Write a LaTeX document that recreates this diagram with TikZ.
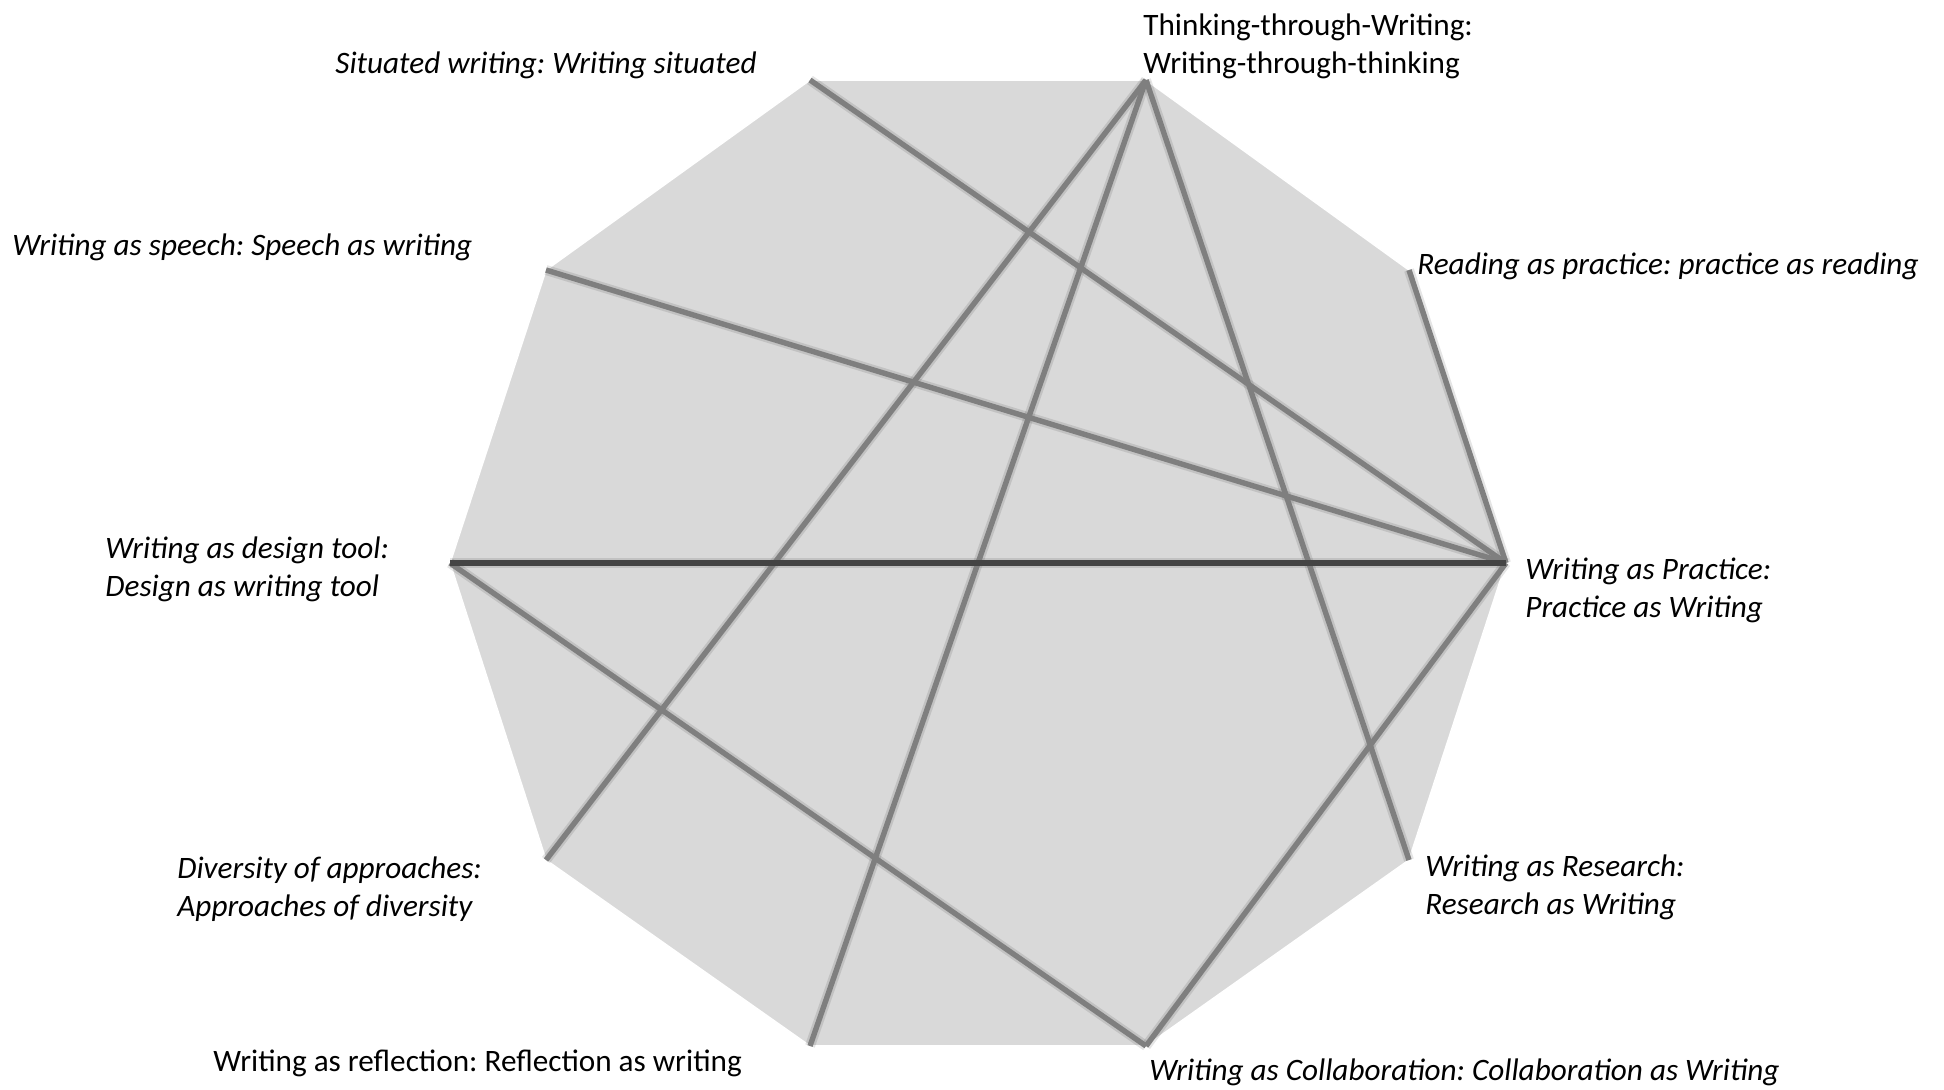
\documentclass[tikz,border=0pt]{standalone}
\usepackage{fontspec}
\setmainfont{Carlito}
\frenchspacing
\usetikzlibrary{positioning}
\definecolor{facefill}{HTML}{D9D9D9}
\definecolor{chordgray}{HTML}{7F7F7F}
\definecolor{axisgray}{HTML}{444444}

\begin{document}
\begin{tikzpicture}[x=0.5pt,y=-0.5pt,
        lbl/.style={inner sep=0pt,align=left,font=\fontsize{15.6}{19}\selectfont\itshape},
        uplbl/.style={inner sep=0pt,align=left,font=\fontsize{15.6}{19}\selectfont},
        chord/.style={draw=chordgray,line width=2.7pt},
        chordshade/.style={draw=black,opacity=0.10,line width=5pt,shift={(1,4)}}]
    \useasboundingbox (0,0) rectangle (1944,1089);
    % corners of the decagon
    \coordinate (prac) at (1506,563);
    \coordinate (read) at (1409,270);
    \coordinate (think) at (1146,80);
    \coordinate (sit) at (810,80);
    \coordinate (speech) at (546,270);
    \coordinate (des) at (450,563);
    \coordinate (div) at (546,860);
    \coordinate (refl) at (810,1046);
    \coordinate (coll) at (1146,1046);
    \coordinate (res) at (1409,860);
    % face
    \fill[black,opacity=0.08,shift={(2,4)}] (prac) -- (read) -- (think) -- (sit) -- (speech)
        -- (des) -- (div) -- (refl) -- (coll) -- (res) -- cycle;
    \filldraw[fill=facefill,draw=white,line width=0.8pt] (prac) -- (read) -- (think) -- (sit) -- (speech)
        -- (des) -- (div) -- (refl) -- (coll) -- (res) -- cycle;
    % shadows under the chords
    \draw[chordshade] (sit) -- (prac);
    \draw[chordshade] (speech) -- (prac);
    \draw[chordshade] (des) -- (prac);
    \draw[chordshade] (des) -- (coll);
    \draw[chordshade] (think) -- (div);
    \draw[chordshade] (think) -- (refl);
    \draw[chordshade] (think) -- (res);
    \draw[chordshade] (coll) -- (prac);
    \draw[chordshade] (read) -- (prac);
    % chords
    \draw[chord] (sit) -- (prac);
    \draw[chord] (speech) -- (prac);
    \draw[chord] (des) -- (coll);
    \draw[chord] (think) -- (div);
    \draw[chord] (think) -- (refl);
    \draw[chord] (think) -- (res);
    \draw[chord] (coll) -- (prac);
    \draw[chord] (read) -- (prac);
    \draw[chord,draw=axisgray] (des) -- (prac);
    % labels
    \node[lbl,anchor=east] (sitlbl) at (757,65) {Situated writing: Writing situated};
    \node[uplbl,anchor=west] (thinklbl) at (1143,46) {Thinking-through-Writing:\\Writing-through-thinking};
    \node[lbl,anchor=west] (readlbl) at (1417,266) {Reading as practice: practice as reading};
    \node[lbl,anchor=west] (speechlbl) at (12,247) {Writing as speech: Speech as writing};
    \node[lbl,anchor=west] (deslbl) at (105,569) {Writing as design tool:\\Design as writing tool};
    \node[lbl,anchor=west] (praclbl) at (1525,590) {Writing as Practice:\\Practice as Writing};
    \node[lbl,anchor=west] (divlbl) at (177,889) {Diversity of approaches:\\Approaches of diversity};
    \node[lbl,anchor=west] (reslbl) at (1425,887) {Writing as Research:\\Research as Writing};
    \node[uplbl,anchor=west] (refllbl) at (213,1063) {Writing as reflection: Reflection as writing};
    \node[lbl,anchor=west] (colllbl) at (1149,1072) {Writing as Collaboration: Collaboration as Writing};
\end{tikzpicture}
\end{document}
